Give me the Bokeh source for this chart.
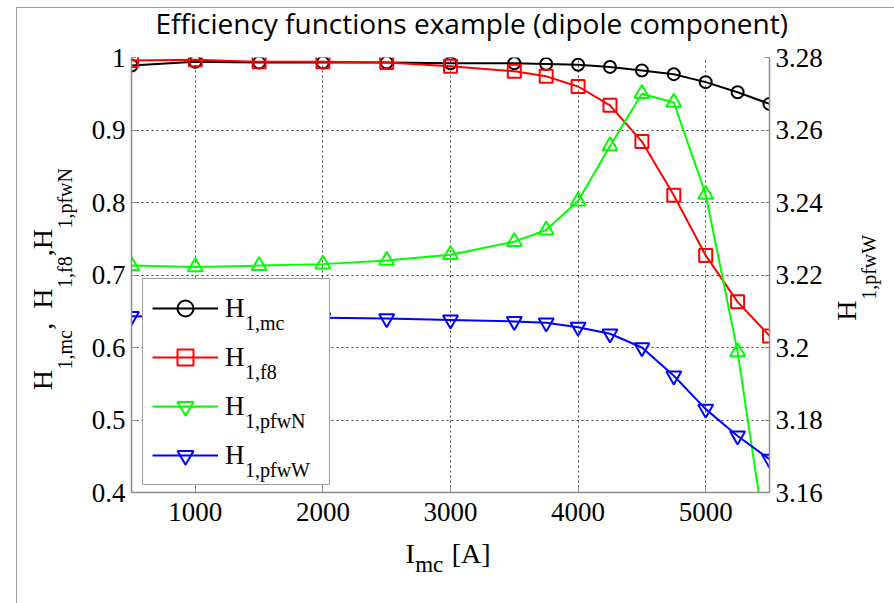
import math
from bokeh.plotting import figure
from bokeh.models import (Range1d, LinearAxis, FixedTicker, Legend, LegendItem,
                          ColumnDataSource, AllLabels)
from bokeh.embed import file_html
from bokeh.resources import INLINE

# ---------------- data ----------------
current = [500, 1000, 1500, 2000, 2500, 3000, 3500, 3750, 4000, 4250, 4500, 4750, 5000, 5250, 5500]
h_mc = [0.989, 0.994, 0.993, 0.993, 0.993, 0.992, 0.992, 0.991, 0.990, 0.987, 0.982, 0.977, 0.966, 0.952, 0.936]
h_f8 = [0.996, 0.997, 0.994, 0.994, 0.993, 0.988, 0.981, 0.974, 0.960, 0.934, 0.884, 0.810, 0.727, 0.663, 0.616]
h_pfwN = [0.713, 0.711, 0.713, 0.715, 0.720, 0.728, 0.746, 0.762, 0.802, 0.878, 0.950, 0.938, 0.811, 0.594, 0.300]
h_pfwW = [3.2086, 3.2084, 3.2083, 3.2082, 3.2080, 3.2076, 3.2072, 3.2068, 3.2056, 3.2038, 3.2000,
          3.1922, 3.1830, 3.1756, 3.1692]

x_ticks = [1000, 2000, 3000, 4000, 5000]
x_tick_labels = ["1000", "2000", "3000", "4000", "5000"]
left_ticks = [0.4, 0.5, 0.6, 0.7, 0.8, 0.9, 1.0]
left_tick_labels = ["0.4", "0.5", "0.6", "0.7", "0.8", "0.9", "1"]
right_ticks = [3.16, 3.18, 3.2, 3.22, 3.24, 3.26, 3.28]
right_tick_labels = ["3.16", "3.18", "3.2", "3.22", "3.24", "3.26", "3.28"]

title_text = "Efficiency functions example (dipole component)"
legend_subs = ["1,mc", "1,f8", "1,pfwN", "1,pfwW"]

# ---------------- layout constants (page pixels) ----------------
PW, PH = 894, 603
FL, FT, FR, FB = 131, 54, 776, 492   # frame edges
X0, X1, Y0, Y1, R0, R1 = 500, 5500, 0.4, 1.0, 3.16, 3.28
SERIF = "Liberation Serif"
GRAY = "#8c8c8c"
O_DESC = 0.293      # Open Sans descent (em)


def px2x(px):
    return X0 + (px - FL) / (FR - FL) * (X1 - X0)


def py2y(py):
    return Y0 + (FB - py) / (FB - FT) * (Y1 - Y0)


def py2r(py):
    return R0 + (FB - py) / (FB - FT) * (R1 - R0)


frame_css = ("linear-gradient(#a0a0a0,#a0a0a0) 16px 7px / 1px 100% no-repeat, "
             "linear-gradient(#a0a0a0,#a0a0a0) 16px 7px / 100% 1px no-repeat, #ffffff")

p = figure(width=PW, height=PH, title=None,
           x_range=Range1d(X0, X1), y_range=Range1d(Y0, Y1),
           output_backend="svg", toolbar_location=None,
           min_border_left=FL, min_border_right=PW - FR,
           min_border_top=FT, min_border_bottom=PH - FB,
           styles={"background": frame_css})
p.outline_line_color = None
p.background_fill_color = "white"
p.border_fill_color = None

p.extra_y_ranges = {"right": Range1d(R0, R1)}
raxis = LinearAxis(y_range_name="right")
p.add_layout(raxis, "right")
xaxis = p.xaxis[0]
yaxis = p.yaxis[0]

xaxis.ticker = FixedTicker(ticks=x_ticks)
xaxis.major_label_overrides = dict(zip(x_ticks, x_tick_labels))
yaxis.ticker = FixedTicker(ticks=left_ticks)
yaxis.major_label_overrides = dict(zip(left_ticks, left_tick_labels))
raxis.ticker = FixedTicker(ticks=right_ticks)
raxis.major_label_overrides = dict(zip(right_ticks, right_tick_labels))

TICK_FS = 27
for ax in [xaxis, yaxis, raxis]:
    ax.axis_line_color = GRAY
    ax.axis_line_width = 1.5
    ax.major_tick_line_color = GRAY
    ax.major_tick_in = 5
    ax.major_tick_out = 0
    ax.minor_tick_line_color = None
    ax.major_label_text_font = SERIF
    ax.major_label_text_font_size = f"{TICK_FS}px"
    ax.major_label_text_color = "black"
XSTAND, YSTAND = 10, 6
xaxis.major_label_standoff = XSTAND
yaxis.major_label_standoff = YSTAND
raxis.major_label_standoff = YSTAND

for g in [p.xgrid[0], p.ygrid[0]]:
    g.grid_line_color = "#404040"
    g.grid_line_dash = "2 3"
    g.grid_line_width = 1

# ---------------- series ----------------
src = ColumnDataSource(dict(x=current, mc=h_mc, f8=h_f8, pn=h_pfwN, pw=h_pfwW))

l1 = p.line("x", "mc", source=src, line_color="black", line_width=2)
s1 = p.scatter("x", "mc", source=src, marker="circle", size=12, line_color="black",
               fill_color=None, line_width=2)
l2 = p.line("x", "f8", source=src, line_color="red", line_width=2)
s2 = p.scatter("x", "f8", source=src, marker="square", size=13, line_color="red",
               fill_color=None, line_width=2)
l3 = p.line("x", "pn", source=src, line_color="#00ff00", line_width=2)
s3 = p.scatter("x", "pn", source=src, marker="triangle", size=15, line_color="#00ff00",
               fill_color=None, line_width=2)
l4 = p.line("x", "pw", source=src, line_color="blue", line_width=2, y_range_name="right")
s4 = p.scatter("x", "pw", source=src, marker="inverted_triangle", size=15, line_color="blue",
               fill_color=None, line_width=2, y_range_name="right")
# legend sample of the green series is a down triangle in the original
s3_leg = p.scatter("x", "pn", source=src, marker="inverted_triangle", size=0,
                   line_color="#00ff00", fill_color=None, line_width=2)

# ---------------- legend ----------------
LEG_L, LEG_B = 142, 485
PAD, GH, SP, GW, STAND = 9, 40, 9, 66, 7
legend = Legend(items=[LegendItem(label="H", renderers=[l1, s1]),
                       LegendItem(label="H", renderers=[l2, s2]),
                       LegendItem(label="H", renderers=[l3, s3_leg]),
                       LegendItem(label="H", renderers=[l4, s4])],
                location=(LEG_L - FL, FB - LEG_B), orientation="vertical",
                padding=PAD, spacing=SP, glyph_height=GH, glyph_width=GW,
                label_standoff=STAND, label_width=95, margin=0,
                label_text_font=SERIF, label_text_font_size="27px",
                label_text_baseline="alphabetic", label_text_color="black",
                border_line_color="#404040", border_line_width=1,
                background_fill_color="white", background_fill_alpha=1.0)
p.add_layout(legend)

# subscripts of the legend entries: a second, transparent legend shifted down
SUB_DROP, SUB_X = 5, 254
legend_sub = Legend(items=[LegendItem(label=s, renderers=[r])
                           for s, r in zip(legend_subs, [l1, l2, l3, l4])],
                    location=(LEG_L - FL, FB - (LEG_B + SUB_DROP)), orientation="vertical",
                    padding=PAD, spacing=SP, glyph_height=GH, glyph_width=0,
                    label_standoff=SUB_X - LEG_L - PAD, label_width=60, margin=0,
                    label_text_font=SERIF, label_text_font_size="20px",
                    label_text_baseline="alphabetic", label_text_color="black",
                    border_line_color=None, background_fill_alpha=0.0)
p.add_layout(legend_sub)


# ---------------- text carried by label-only axes ----------------
def label_axis(side, ticks, labels, font, size, standoff, orientation=None, y_range_name=None):
    ax = LinearAxis(ticker=FixedTicker(ticks=ticks),
                    major_label_overrides=dict(zip(ticks, labels)),
                    major_label_policy=AllLabels(),
                    axis_line_color=None, major_tick_line_color=None,
                    minor_tick_line_color=None, major_tick_in=0, major_tick_out=0,
                    major_label_standoff=int(round(standoff)),
                    major_label_text_font=font, major_label_text_font_size=f"{size}px",
                    major_label_text_color="black")
    if orientation is not None:
        ax.major_label_orientation = orientation
    if y_range_name is not None:
        ax.y_range_name = y_range_name
    p.add_layout(ax, side)
    return ax


# title (above)
T_FS = 28
title_left, title_right, title_base = 162, 788, 30
label_axis("above", [px2x((title_left + title_right) / 2)], [title_text], "Open Sans", T_FS,
           FT - title_base - O_DESC * T_FS)

# x label  I_mc [A]  (below)
M_FS, S_FS = 28, 23
label_axis("below", [px2x(408 + 0.333 * M_FS / 2), px2x(455 + 1.388 * M_FS / 2)], ["I", "[A]"],
           SERIF, M_FS, 14)
label_axis("below", [px2x(418 + 1.222 * S_FS / 2)], ["mc"], SERIF, S_FS, -20)

# left y label  H_{1,mc}, H_{1,f8}, H_{1,pfwN}  (reads upward)
LM_FS, LS_FS = 28, 20
DY = 2
left_sub_pos = [(366 + 326.6) / 2, (284 + 252.3) / 2, (224 + 163.5) / 2]
label_axis("left", [py2y(v + DY) for v in left_sub_pos], ["1,mc", "1,f8", "1,pfwN"],
           SERIF, LS_FS, 12, orientation="parallel")
left_main_pos = [(387 + 366.8) / 2, (326 + 319) / 2, (305 + 284.8) / 2, (252 + 245) / 2,
                 (245 + 224.8) / 2]
label_axis("left", [py2y(v + DY) for v in left_main_pos], ["H", ",", "H", ",", "H"],
           SERIF, LM_FS, -7, orientation="parallel")

# right y label  H_{1,pfwW}  (reads upward)
label_axis("right", [py2r(319)], ["H"], SERIF, LM_FS, 21,
           orientation=math.pi / 2, y_range_name="right")
label_axis("right", [py2r(298)], ["1,pfwW"], SERIF, LS_FS, -11,
           orientation=math.pi / 2, y_range_name="right")

open("out.html", "w").write(file_html(p, INLINE))
